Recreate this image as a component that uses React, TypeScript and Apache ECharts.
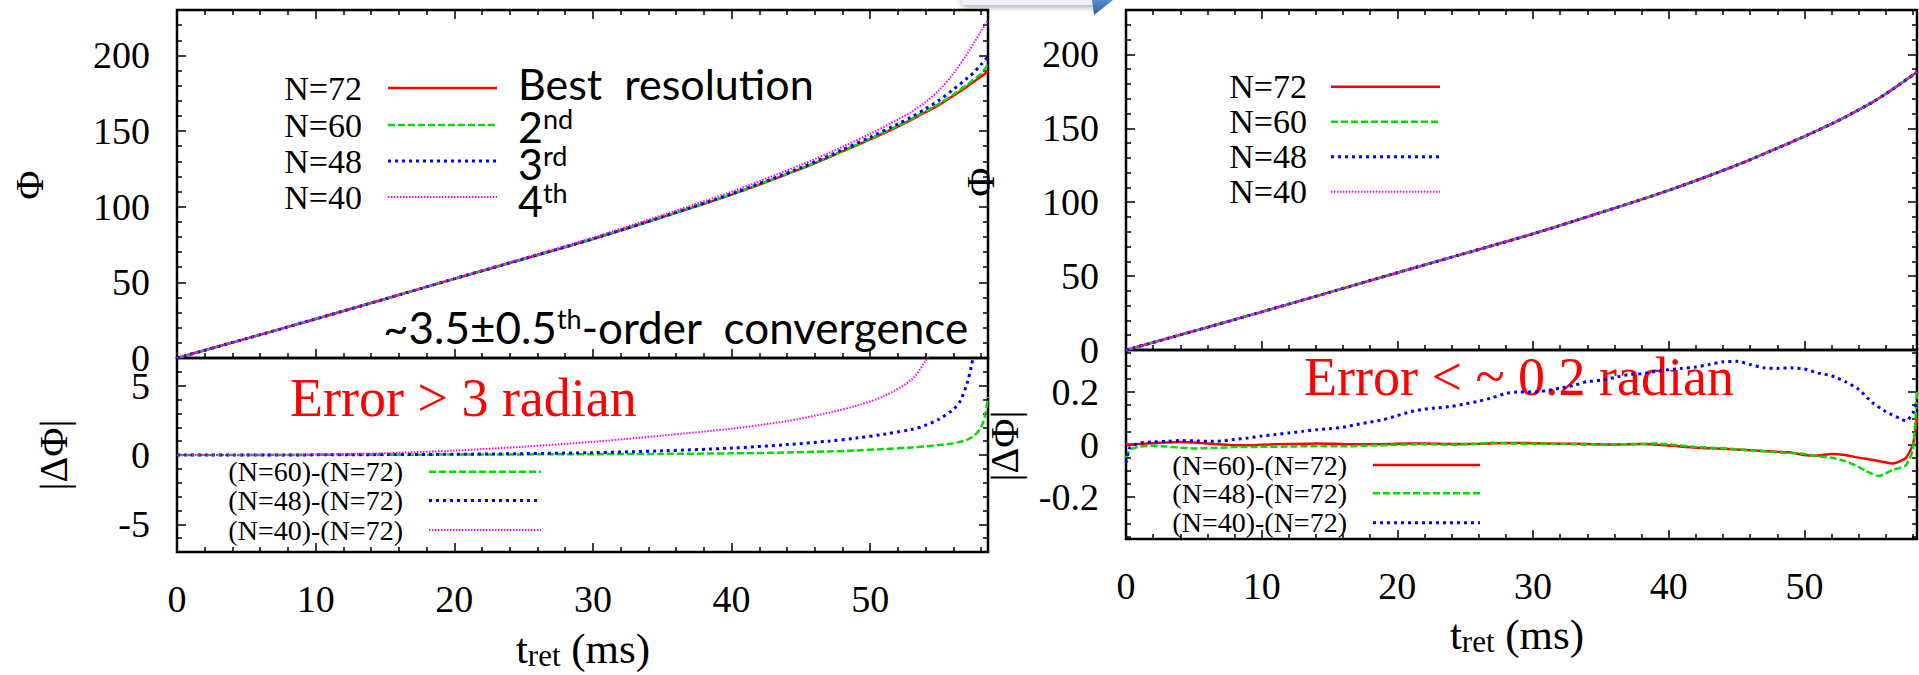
import React, { useEffect, useRef } from 'react';
import * as echarts from 'echarts';

// ---------- data ----------
// upper-left panel: Phi vs t_ret (ms)
const tLeft = [0, 5, 10, 15, 20, 25, 30, 35, 40, 45, 48, 50, 52, 53, 54, 55, 56, 57, 57.5, 58, 58.5];
const phiN72 = [0, 12.8, 25.8, 39, 52.3, 65.4, 78.6, 93, 108, 125, 136.5, 144.5, 153, 157.5, 162.5, 167.5, 173.3, 179.5, 182.8, 186, 189.5];
const phiN60 = [0, 12.8, 25.8, 39, 52.3, 65.4, 78.7, 93.1, 108.1, 125.2, 136.8, 144.9, 153.5, 158, 163.1, 168.2, 174.2, 180.6, 184.2, 188, 194];
const phiN48 = [0, 12.8, 25.8, 39, 52.4, 65.5, 78.8, 93.3, 108.5, 125.8, 137.6, 145.9, 154.7, 159.4, 164.7, 170.5, 177.5, 185, 189, 194, 199];
const phiN40 = [0, 12.8, 25.8, 39.1, 52.6, 66, 79.6, 94.4, 109.9, 127.6, 139.6, 148.2, 157.6, 162.9, 169.2, 177.2, 188, 201, 208.5, 216, 223.5];

// lower-left panel: |dPhi|
const tL60 = [0, 5, 10, 20, 30, 35, 40, 44, 47, 49, 51, 53, 54, 55, 56, 56.5, 57, 57.5, 58, 58.3, 58.5];
const dL60 = [0, 0, 0.01, 0.03, 0.06, 0.08, 0.12, 0.18, 0.26, 0.33, 0.43, 0.55, 0.62, 0.72, 0.85, 0.95, 1.1, 1.4, 2.0, 2.9, 4.2];
const tL48 = [0, 5, 10, 15, 20, 25, 30, 35, 40, 44, 47, 49, 51, 53, 54, 55, 56, 56.5, 57, 57.3, 57.5];
const dL48 = [0, 0, 0.01, 0.03, 0.05, 0.1, 0.17, 0.3, 0.5, 0.75, 1.0, 1.22, 1.5, 1.85, 2.15, 2.6, 3.3, 3.9, 5.2, 6.4, 7.5];
const tL40 = [0, 5, 10, 15, 20, 25, 30, 35, 40, 44, 47, 49, 51, 53, 54, 54.4];
const dL40 = [0, 0.01, 0.04, 0.13, 0.32, 0.6, 0.95, 1.4, 1.9, 2.45, 3.05, 3.55, 4.25, 5.45, 6.8, 7.6];

// upper-right panel: Phi vs t_ret (all resolutions coincide)
const tRight = [0, 5, 10, 15, 20, 25, 30, 35, 40, 45, 48, 50, 52, 53, 54, 55, 56, 57, 57.5, 58, 58.3];
const phiRight = [0, 12.8, 25.8, 39, 52.3, 65.4, 78.6, 93, 108, 125, 136.5, 144.5, 153, 157.5, 162.5, 167.5, 173.3, 179.5, 182.8, 186, 188.2];

// lower-right panel: |dPhi|
const tR60 = [0, 1, 2, 3, 4, 5, 6, 7, 8, 9, 10, 12, 14, 16, 18, 20, 22, 24, 26, 28, 30, 32, 34, 36, 38, 40, 42, 44, 46, 48, 49, 50, 51, 52, 53, 54, 55, 56, 56.5, 57, 57.5, 58, 58.3];
const dR60 = [0, 0.002, 0.005, 0.008, 0.01, 0.008, 0.004, 0.0, -0.003, -0.003, -0.001, 0.002, 0.004, 0.002, 0.001, 0.003, 0.004, 0.002, 0.003, 0.006, 0.005, 0.003, 0.002, 0.0, 0.002, -0.004, -0.012, -0.016, -0.022, -0.028, -0.03, -0.04, -0.042, -0.036, -0.04, -0.05, -0.058, -0.068, -0.072, -0.065, -0.05, 0.0, 0.1];
const tR48 = [0, 0.3, 1, 2, 3, 4, 5, 6, 7, 8, 10, 12, 14, 16, 18, 20, 22, 24, 26, 27, 28, 30, 32, 34, 36, 38, 39, 40, 42, 44, 46, 48, 50, 51, 52, 53, 54, 54.5, 55, 55.5, 56, 56.5, 57, 57.5, 58, 58.3];
const dR48 = [-0.05, -0.02, -0.008, -0.005, -0.008, -0.012, -0.015, -0.014, -0.012, -0.01, -0.009, -0.008, -0.006, -0.007, -0.004, -0.001, 0.001, -0.001, 0.003, 0.007, 0.004, 0.003, 0.002, 0.0, 0.001, 0.002, 0.004, 0.001, -0.01, -0.014, -0.022, -0.03, -0.036, -0.045, -0.05, -0.063, -0.085, -0.1, -0.112, -0.12, -0.11, -0.097, -0.09, -0.078, -0.02, 0.2];
const tR40 = [0, 0.3, 1, 2, 3, 4, 5, 6, 7, 8, 9, 10, 11, 12, 13, 14, 15, 16, 17, 18, 19, 20, 21, 22, 23, 24, 25, 26, 27, 28, 29, 30, 31, 32, 33, 34, 35, 36, 37, 38, 39, 40, 41, 42, 43, 44, 45, 46, 47, 48, 49, 50, 51, 52, 53, 54, 55, 56, 57, 57.5, 58, 58.3];
const dR40 = [-0.07, -0.01, 0.005, 0.01, 0.012, 0.015, 0.014, 0.012, 0.013, 0.019, 0.025, 0.032, 0.038, 0.044, 0.05, 0.056, 0.06, 0.066, 0.076, 0.085, 0.095, 0.11, 0.125, 0.135, 0.14, 0.145, 0.155, 0.165, 0.178, 0.195, 0.2, 0.2, 0.205, 0.215, 0.225, 0.24, 0.245, 0.255, 0.266, 0.27, 0.278, 0.285, 0.29, 0.295, 0.305, 0.315, 0.317, 0.305, 0.292, 0.29, 0.292, 0.288, 0.272, 0.262, 0.24, 0.21, 0.16, 0.125, 0.1, 0.09, 0.12, 0.17];

// tick values / labels
const xMajor = [0, 10, 20, 30, 40, 50];
const xMinor = [2, 4, 6, 8, 12, 14, 16, 18, 22, 24, 26, 28, 32, 34, 36, 38, 42, 44, 46, 48, 52, 54, 56, 58];
const phiMajor = [0, 50, 100, 150, 200];
const phiMinor = [10, 20, 30, 40, 60, 70, 80, 90, 110, 120, 130, 140, 160, 170, 180, 190, 210, 220];
const dlMajor = [-5, 0, 5];
const dlMinor = [-6, -4, -3, -2, -1, 1, 2, 3, 4, 6];
const drMajor = [-0.2, 0, 0.2];
const drMinor = [-0.35, -0.3, -0.25, -0.15, -0.1, -0.05, 0.05, 0.1, 0.15, 0.25, 0.3, 0.35];

const legendUpper = ['N=72', 'N=60', 'N=48', 'N=40'];
const legendLower = ['(N=60)-(N=72)', '(N=48)-(N=72)', '(N=40)-(N=72)'];
const orderLabels = ['Best  resolution', '2', '3', '4'];
const orderSups = ['', 'nd', 'rd', 'th'];

// ---------- styles ----------
const SERIF = 'Liberation Serif';
const SANS = 'Lato';
const RED = '#ff0000';
const GREEN = '#00dd00';
const BLUE = '#0000ff';
const MAGENTA = '#ff00ff';
const ST = {
  red: { color: RED, width: 2.5, type: 'solid' as any, dash: null as any },
  green: { color: GREEN, width: 2.5, type: [7, 3], dash: [7, 3] },
  blue: { color: BLUE, width: 3, type: [3, 4], dash: [3, 4] },
  magenta: { color: MAGENTA, width: 2, type: [1.5, 1.5], dash: [1.5, 1.5] },
};

const panels = [
  { left: 177, top: 10, width: 811, height: 348, xmax: 58.5, ymin: 0, ymax: 230, yMaj: phiMajor, yMin: phiMinor, xLabels: false, topTicks: true },
  { left: 177, top: 358, width: 811, height: 194, xmax: 58.5, ymin: -7, ymax: 7, yMaj: dlMajor, yMin: dlMinor, xLabels: true, topTicks: false },
  { left: 1126, top: 10, width: 791, height: 340, xmax: 58.3, ymin: 0, ymax: 230, yMaj: phiMajor, yMin: phiMinor, xLabels: false, topTicks: true },
  { left: 1126, top: 350, width: 791, height: 189, xmax: 58.3, ymin: -0.36, ymax: 0.36, yMaj: drMajor, yMin: drMinor, xLabels: true, topTicks: false },
];

function axis(gridIndex: number, position: string, min: number, max: number, ticks: number[], len: number, labels: number[] | null, margin: number) {
  return {
    type: 'value', gridIndex, position, min, max,
    axisLine: { show: false, onZero: false },
    splitLine: { show: false },
    minorTick: { show: false },
    axisTick: { show: true, inside: true, length: len, customValues: ticks.filter((v) => v >= min && v <= max), lineStyle: { color: '#000', width: 1.5 } },
    axisLabel: labels
      ? { show: true, customValues: labels, margin, fontSize: 38, fontFamily: SERIF, color: '#000', showMinLabel: true, showMaxLabel: true }
      : { show: false },
  };
}

function pairs(t: number[], v: number[]) {
  return t.map((x, i) => [x, v[i]]);
}

function buildOption() {
  const grid: any[] = [];
  const xAxis: any[] = [];
  const yAxis: any[] = [];
  const xIdx: number[] = [];
  const yIdx: number[] = [];
  panels.forEach((p, g) => {
    grid.push({ left: p.left, top: p.top, width: p.width, height: p.height, show: true, borderColor: '#000', borderWidth: 2.5, backgroundColor: 'transparent', containLabel: false, outerBoundsMode: 'none' });
    xIdx.push(xAxis.length);
    xAxis.push(axis(g, 'bottom', 0, p.xmax, xMajor, 9, p.xLabels ? xMajor : null, 28));
    xAxis.push(axis(g, 'bottom', 0, p.xmax, xMinor, 5, null, 0));
    if (p.topTicks) {
      xAxis.push(axis(g, 'top', 0, p.xmax, xMajor, 9, null, 0));
      xAxis.push(axis(g, 'top', 0, p.xmax, xMinor, 5, null, 0));
    }
    yIdx.push(yAxis.length);
    yAxis.push(axis(g, 'left', p.ymin, p.ymax, p.yMaj, 9, p.yMaj, 27));
    yAxis.push(axis(g, 'left', p.ymin, p.ymax, p.yMin, 5, null, 0));
    yAxis.push(axis(g, 'right', p.ymin, p.ymax, p.yMaj, 9, null, 0));
    yAxis.push(axis(g, 'right', p.ymin, p.ymax, p.yMin, 5, null, 0));
  });

  const line = (g: number, name: string, t: number[], v: number[], s: any, smooth: number) => ({
    type: 'line', name, xAxisIndex: xIdx[g], yAxisIndex: yIdx[g],
    data: pairs(t, v), symbol: 'none', showSymbol: false, smooth,
    lineStyle: { color: s.color, width: s.width, type: s.type }, itemStyle: { color: s.color },
    silent: true, clip: true, emphasis: { disabled: true },
  });

  const series = [
    line(0, 'N=72', tLeft, phiN72, ST.red, 0.3),
    line(0, 'N=60', tLeft, phiN60, ST.green, 0.3),
    line(0, 'N=48', tLeft, phiN48, ST.blue, 0.3),
    line(0, 'N=40', tLeft, phiN40, ST.magenta, 0.3),
    line(1, '(N=60)-(N=72)', tL60, dL60, ST.green, 0.3),
    line(1, '(N=48)-(N=72)', tL48, dL48, ST.blue, 0.3),
    line(1, '(N=40)-(N=72)', tL40, dL40, ST.magenta, 0.3),
    line(2, 'N=72', tRight, phiRight, ST.red, 0.3),
    line(2, 'N=60', tRight, phiRight, ST.green, 0.3),
    line(2, 'N=48', tRight, phiRight, ST.blue, 0.3),
    line(2, 'N=40', tRight, phiRight, ST.magenta, 0.3),
    line(3, '(N=60)-(N=72)', tR60, dR60, ST.red, 0.2),
    line(3, '(N=48)-(N=72)', tR48, dR48, ST.green, 0.2),
    line(3, '(N=40)-(N=72)', tR40, dR40, ST.blue, 0.2),
  ];

  const els: any[] = [];
  const txt = (x: number, y: number, text: string, size: number, family: string, fill: string, align: string, extra: any = {}) =>
    els.push({ type: 'text', x, y, silent: true, ...extra, style: { text, fontSize: size, fontFamily: family, fill, align, verticalAlign: 'middle' } });
  const seg = (x1: number, x2: number, y: number, s: any) =>
    els.push({ type: 'line', silent: true, shape: { x1, y1: y, x2, y2: y }, style: { stroke: s.color, lineWidth: s.width, lineDash: s.dash } });

  // decorative callout remnant at top
  els.push({ type: 'rect', silent: true, shape: { x: 962, y: -20, width: 140, height: 25, r: 4 }, style: { fill: '#eef1f5', shadowBlur: 6, shadowColor: 'rgba(0,0,0,0.35)', shadowOffsetY: 2 } });
  els.push({ type: 'polygon', silent: true, shape: { points: [[1092, 0], [1113, 0], [1094, 15]] }, style: { fill: new echarts.graphic.LinearGradient(0, 0, 0, 1, [{ offset: 0, color: '#5b8bd0' }, { offset: 1, color: '#2f5c9c' }]) } });

  // y-axis titles (rotated)
  const rot = { rotation: Math.PI / 2 };
  txt(29, 185, 'Φ', 40, SERIF, '#000', 'center', rot);
  txt(53, 455, '|ΔΦ|', 40, SERIF, '#000', 'center', rot);
  txt(980, 182, 'Φ', 40, SERIF, '#000', 'center', rot);
  txt(1004, 446, '|ΔΦ|', 40, SERIF, '#000', 'center', rot);

  // x-axis titles
  const title = (x: number, y: number) => els.push({
    type: 'text', x, y, silent: true,
    style: {
      text: '{m|t}{s|ret}{m| (ms)}', align: 'center', verticalAlign: 'middle',
      rich: { m: { fontSize: 43, fontFamily: SERIF, fill: '#000' }, s: { fontSize: 31, fontFamily: SERIF, fill: '#000', padding: [14, 0, 0, 0] } },
    },
  });
  title(583, 648);
  title(1517, 634);

  // upper-left legend
  const upStyles = [ST.red, ST.green, ST.blue, ST.magenta];
  const rowsUL = [88, 125, 161, 197];
  legendUpper.forEach((l, i) => {
    txt(362, rowsUL[i], l, 34, SERIF, '#000', 'right');
    seg(388, 497, rowsUL[i], upStyles[i]);
  });
  // order annotations
  orderLabels.forEach((l, i) => {
    const y = [83, 126, 163, 200][i];
    if (!orderSups[i]) {
      txt(518, y, l, 43, SANS, '#000', 'left');
    } else {
      els.push({
        type: 'text', x: 518, y, silent: true,
        style: { text: `{a|${l}}{b|${orderSups[i]}}`, align: 'left', verticalAlign: 'middle', rich: { a: { fontSize: 43, fontFamily: SANS, fill: '#000' }, b: { fontSize: 27, fontFamily: SANS, fill: '#000', verticalAlign: 'top' } } },
      });
    }
  });
  els.push({
    type: 'text', x: 383, y: 327, silent: true,
    style: { text: '{a|~3.5±0.5}{b|th}{a|-order  convergence}', align: 'left', verticalAlign: 'middle', rich: { a: { fontSize: 44, fontFamily: SANS, fill: '#000' }, b: { fontSize: 27, fontFamily: SANS, fill: '#000', verticalAlign: 'top' } } },
  });

  // upper-right legend
  const rowsUR = [86.7, 121.7, 156.7, 191.7];
  legendUpper.forEach((l, i) => {
    txt(1307, rowsUR[i], l, 34, SERIF, '#000', 'right');
    seg(1331, 1440, rowsUR[i], upStyles[i]);
  });

  // lower-left legend
  const llStyles = [ST.green, ST.blue, ST.magenta];
  const rowsLL = [471.7, 500.5, 530];
  legendLower.forEach((l, i) => {
    txt(403, rowsLL[i], l, 28, SERIF, '#000', 'right');
    seg(429, 541, rowsLL[i], llStyles[i]);
  });

  // lower-right legend
  const lrStyles = [ST.red, ST.green, ST.blue];
  const rowsLR = [465, 493.3, 522.7];
  legendLower.forEach((l, i) => {
    txt(1347, rowsLR[i], l, 28, SERIF, '#000', 'right');
    seg(1373, 1480, rowsLR[i], lrStyles[i]);
  });

  // red error annotations
  txt(290, 398, 'Error > 3 radian', 54, SERIF, RED, 'left');
  txt(1304, 377, 'Error < ~ 0.2 radian', 54, SERIF, RED, 'left');

  return {
    animation: false,
    backgroundColor: '#fff',
    grid, xAxis, yAxis, series,
    graphic: { elements: els },
  };
}

export default function App() {
  const ref = useRef<HTMLDivElement>(null);
  useEffect(() => {
    const chart = echarts.init(ref.current!, null, { renderer: 'svg' });
    chart.setOption(buildOption() as any);
    return () => chart.dispose();
  }, []);
  return <div ref={ref} style={{ position: 'absolute', left: 0, top: 0, width: 1919, height: 675, background: '#fff' }} />;
}
